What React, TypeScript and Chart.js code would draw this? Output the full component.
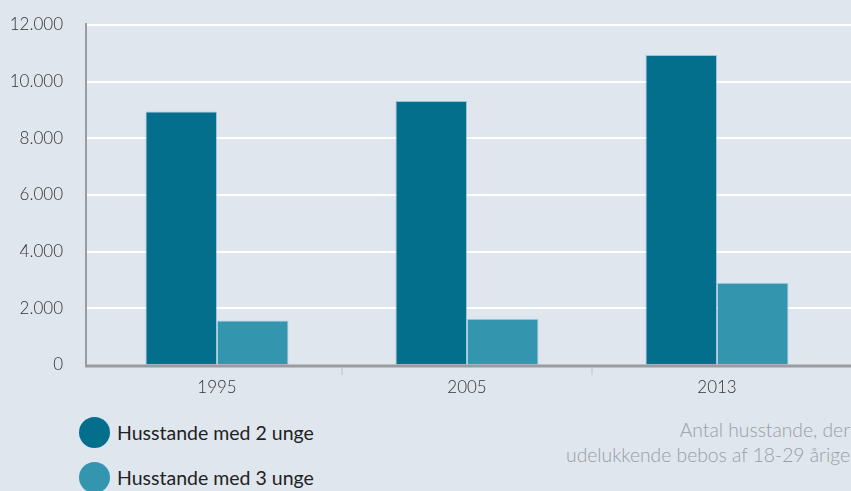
import React, { useEffect, useRef } from "react";
import { Chart, registerables } from "chart.js";

Chart.register(...registerables);

const categories = ["1995", "2005", "2013"];
const series2Name = "Husstande med 2 unge";
const series3Name = "Husstande med 3 unge";
const series2 = [8950, 9320, 10940];
const series3 = [1570, 1630, 2900];
const yTicks = [0, 2000, 4000, 6000, 8000, 10000, 12000];
const noteLines = ["Antal husstande, der", "udelukkende bebos af 18-29 årige"];

const DARK = "#036f8d";
const LIGHT = "#3495af";
const BG = "#dfe6ee";
const FONT = "Lato, 'Open Sans', sans-serif";

const fmt = (v: number) => String(v).replace(/\B(?=(\d{3})+(?!\d))/g, ".");

const decor = {
  id: "decor",
  beforeDatasetsDraw(chart: any) {
    const { ctx, chartArea, scales } = chart;
    const y = scales.y;
    ctx.save();
    ctx.strokeStyle = "#ffffff";
    ctx.lineWidth = 2;
    yTicks.forEach((t) => {
      if (t === 0) return;
      const py = Math.round(y.getPixelForValue(t));
      ctx.beginPath();
      ctx.moveTo(chartArea.left - 7, py);
      ctx.lineTo(chart.width, py);
      ctx.stroke();
    });
    ctx.restore();
  },
  afterDatasetsDraw(chart: any) {
    const { ctx, chartArea, scales } = chart;
    const x = scales.x;
    const y = scales.y;
    ctx.save();
    ctx.strokeStyle = "#9a9ca0";
    ctx.lineWidth = 2;
    const ax = chartArea.left - 6;
    ctx.beginPath();
    ctx.moveTo(ax, y.getPixelForValue(12000) - 2);
    ctx.lineTo(ax, chartArea.bottom + 1);
    ctx.stroke();
    ctx.lineWidth = 3;
    ctx.beginPath();
    ctx.moveTo(ax - 1, chartArea.bottom + 1);
    ctx.lineTo(chart.width, chartArea.bottom + 1);
    ctx.stroke();
    ctx.strokeStyle = "#d0d3d8";
    ctx.lineWidth = 2;
    for (let i = 0; i < categories.length - 1; i++) {
      const px = Math.round((x.getPixelForValue(i) + x.getPixelForValue(i + 1)) / 2);
      ctx.beginPath();
      ctx.moveTo(px, chartArea.bottom + 3);
      ctx.lineTo(px, chartArea.bottom + 10);
      ctx.stroke();
    }
    ctx.restore();
  },
};

export default function App() {
  const ref = useRef<HTMLCanvasElement | null>(null);
  useEffect(() => {
    if (!ref.current) return;
    const chart = new Chart(ref.current, {
      type: "bar",
      data: {
        labels: categories,
        datasets: [
          {
            label: series2Name,
            data: series2,
            backgroundColor: DARK,
            borderColor: "rgba(120,170,195,0.6)",
            borderWidth: 1,
            categoryPercentage: 0.572,
            barPercentage: 1,
          },
          {
            label: series3Name,
            data: series3,
            backgroundColor: LIGHT,
            borderColor: "rgba(150,200,215,0.7)",
            borderWidth: 1,
            categoryPercentage: 0.572,
            barPercentage: 1,
          },
        ],
      },
      options: {
        responsive: false,
        animation: false,
        maintainAspectRatio: false,
        layout: { padding: { top: 25, right: 9, left: 0, bottom: 0 } },
        plugins: { legend: { display: false }, tooltip: { enabled: false } },
        scales: {
          y: {
            min: 0,
            max: 12000,
            afterBuildTicks: (s: any) => {
              s.ticks = yTicks.map((v) => ({ value: v }));
            },
            afterFit: (s: any) => {
              s.width = 92;
            },
            ticks: {
              callback: (v: any) => fmt(Number(v)),
              color: "#333333",
              font: { family: FONT, size: 17, weight: "300" as any },
              padding: 0,
            },
            grid: {
              display: true,
              drawOnChartArea: false,
              drawTicks: true,
              tickLength: 29,
              tickColor: "rgba(0,0,0,0)",
              color: "rgba(0,0,0,0)",
            },
            border: { display: false },
          },
          x: {
            afterFit: (s: any) => {
              s.height = 35;
            },
            ticks: {
              color: "#333333",
              font: { family: FONT, size: 17, weight: "300" as any },
              padding: 12,
            },
            grid: { display: false, drawTicks: false },
            border: { display: false },
          },
        },
      },
      plugins: [decor],
    });
    return () => chart.destroy();
  }, []);

  const legendItem = (color: string, text: string, top: number) => (
    <div
      style={{
        position: "absolute",
        left: 79,
        top: top - 16,
        height: 32,
        display: "flex",
        alignItems: "center",
      }}
    >
      <span
        style={{
          width: 31,
          height: 31,
          borderRadius: "50%",
          background: color,
          display: "inline-block",
        }}
      />
      <span
        style={{
          marginLeft: 7,
          fontFamily: FONT,
          fontSize: 19.5,
          fontWeight: 400,
          color: "#222222",
          whiteSpace: "nowrap",
        }}
      >
        {text}
      </span>
    </div>
  );

  return (
    <div
      style={{
        position: "fixed",
        left: 0,
        top: 0,
        width: 851,
        height: 491,
        background: BG,
        overflow: "hidden",
      }}
    >
      <canvas ref={ref} width={851} height={400} style={{ position: "absolute", left: 0, top: 0 }} />
      {legendItem(DARK, series2Name, 432)}
      {legendItem(LIGHT, series3Name, 477)}
      <div
        style={{
          position: "absolute",
          right: 1,
          top: 417,
          textAlign: "right",
          fontFamily: FONT,
          fontSize: 19.3,
          fontWeight: 300,
          lineHeight: "25px",
          color: "#9a9ea4",
          whiteSpace: "nowrap",
        }}
      >
        {noteLines.map((l, i) => (
          <div key={i}>{l}</div>
        ))}
      </div>
    </div>
  );
}
